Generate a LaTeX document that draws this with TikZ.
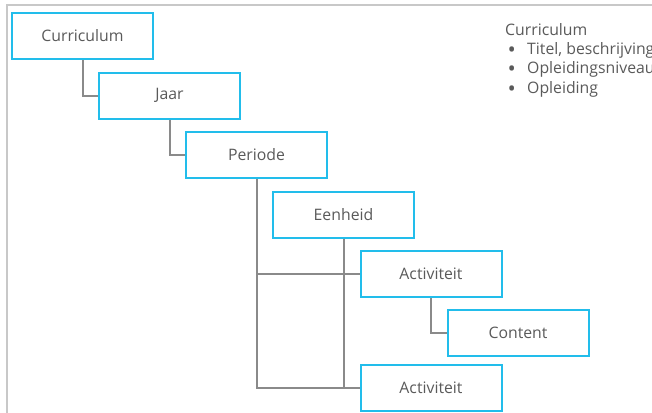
\documentclass[tikz,border=0pt]{standalone}
\usepackage{fontspec}
\setmainfont{Open Sans}
\definecolor{boxcyan}{HTML}{22BDEB}
\definecolor{linegray}{HTML}{8A8A8A}
\definecolor{framegray}{HTML}{C8C8C8}
\definecolor{txtgray}{HTML}{5A5A5A}
\tikzset{
  entity/.style={draw=boxcyan, line width=2pt, fill=white, rectangle,
    minimum width=141pt, minimum height=46pt, inner sep=0pt,
    text=txtgray, font=\fontsize{15.8}{18}\selectfont},
  link/.style={draw=linegray, line width=2pt},
  note/.style={anchor=base west, inner sep=0pt, text=txtgray,
    font=\fontsize{15.8}{18}\selectfont},
  bullet/.style={anchor=base west, inner sep=0pt, text=txtgray,
    font=\fontsize{22}{22}\selectfont},
}
\begin{document}
\begin{tikzpicture}[x=1pt,y=-1pt]
\useasboundingbox (0,0) rectangle (652,412);
\fill[white] (0,0) rectangle (652,412);
% frame
\draw[framegray, line width=1.5pt] (7,420) -- (7,5) -- (660,5);

% nodes
\node[entity] (cur) at (82.5,36) {Curriculum};
\node[entity] (jaar) at (169.5,95.5) {Jaar};
\node[entity] (per) at (256.5,155) {Periode};
\node[entity] (een) at (343.5,214.5) {Eenheid};
\node[entity] (act1) at (431,274) {Activiteit};
\node[entity] (cont) at (518,333) {Content};
\node[entity] (act2) at (431,388) {Activiteit};

% connectors
\draw[link] (cur.south) |- (jaar.west);
\draw[link] (jaar.south) |- (per.west);
\draw[link] (per.south) |- (act1.west);
\draw[link] (per.south) |- (act2.west);
\draw[link] (een.south) |- (act1.west);
\draw[link] (een.south) |- (act2.west);
\draw[link] (act1.south) |- (cont.west);

% note
\node[note] (n0) at (505,35.5) {Curriculum};
\node[bullet] (b1) at (507.5,57) {•};
\node[note] (t1) at (527,54.5) {Titel, beschrijving};
\node[bullet] (b2) at (507.5,76.5) {•};
\node[note] (t2) at (527,74) {Opleidingsniveau};
\node[bullet] (b3) at (507.5,96) {•};
\node[note] (t3) at (527,93.5) {Opleiding};
\end{tikzpicture}
\end{document}
